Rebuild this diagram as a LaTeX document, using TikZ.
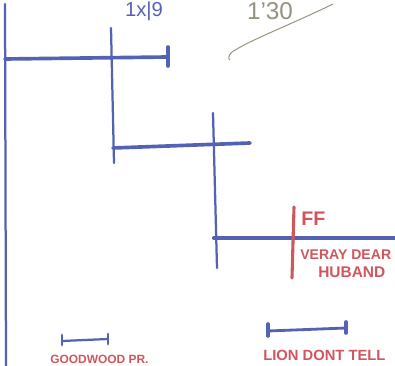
\documentclass[tikz,border=0pt]{standalone}
\usepackage{fontspec}
\setsansfont{Liberation Sans}
\usetikzlibrary{positioning}
\definecolor{penblue}{RGB}{84,98,180}
\definecolor{penred}{RGB}{208,86,94}
\definecolor{pencil}{RGB}{150,146,128}
\tikzset{
  bar/.style={penblue,line width=2.6pt,line cap=round},
  stem/.style={penblue,line width=1.6pt,line cap=round},
  tick/.style={penblue,line width=2.6pt,line cap=round},
  redlabel/.style={penred,font=\sffamily\bfseries\fontsize{10}{12}\selectfont,inner sep=0pt,anchor=west},
}

\begin{document}
\begin{tikzpicture}[x=.025cm,y=-.025cm]
\useasboundingbox (0,0) rectangle (395,366);
\clip (0,0) rectangle (395,366);
% Notes en haut de la feuille.
\node[penblue,font=\sffamily\Large,inner sep=0pt,anchor=north] (score) at (144,2) {1x|9};
\node[pencil,font=\sffamily\LARGE,inner sep=0pt,anchor=north] (time) at (270,2) {1'30};
\draw[pencil,line width=.7pt] (333,4) .. controls (290,25) and (250,40) .. (232,52)
      .. controls (228,56) and (228,59) .. (230,60);
% Le premier tableau : tronc gauche et premiere branche.
\coordinate (trunktop) at (5,4);
\coordinate (trunkbot) at (6,366);
\draw[stem] (trunktop) -- (trunkbot);
\coordinate (r1a) at (5,59);
\coordinate (r1b) at (168,57);
\draw[bar] (r1a) -- (r1b);
\draw[tick] (168,47) -- (168,66);
% Deuxieme branche.
\coordinate (s2top) at (111,28);
\coordinate (s2bot) at (114,163);
\draw[stem] (s2top) -- (s2bot);
\coordinate (r2a) at (113,148);
\coordinate (r2b) at (250,143);
\draw[bar] (r2a) -- (r2b);
% Troisieme branche, qui sort de la feuille.
\coordinate (s3top) at (213,113);
\coordinate (s3bot) at (217,268);
\draw[stem] (s3top) -- (s3bot);
\coordinate (r3a) at (214,238);
\coordinate (r3b) at (395,238);
\draw[bar,line width=3pt] (r3a) -- (r3b);
% Marque rouge et noms.
\coordinate (redtop) at (294,207);
\coordinate (redbot) at (292,278);
\draw[penred,line width=2.2pt,line cap=round] (redtop) -- (redbot);
\node[redlabel,font=\sffamily\bfseries\fontsize{14}{16}\selectfont] (ff) at (301,219) {FF};
\node[redlabel] (dear) at (300,255) {VERAY DEAR};
\node[redlabel,font=\sffamily\bfseries\fontsize{11}{13}\selectfont] (huband) at (318,272) {HUBAND};
% Echelles en bas.
\coordinate (sc1a) at (62,341);
\coordinate (sc1b) at (108,339);
\draw[penblue,line width=1.6pt] (sc1a) -- (sc1b);
\draw[tick,line width=2pt] (62,335) -- (62,345);
\draw[tick,line width=2pt] (108,334) -- (108,344);
\node[redlabel,font=\sffamily\bfseries\fontsize{8.5}{10}\selectfont] (goodwood) at (50,359) {GOODWOOD PR.};
\coordinate (sc2a) at (268,331);
\coordinate (sc2b) at (346,328);
\draw[penblue,line width=2pt] (sc2a) -- (sc2b);
\draw[tick] (268,324) -- (268,336);
\draw[tick] (346,322) -- (346,333);
\node[redlabel,font=\sffamily\bfseries\fontsize{10.5}{12}\selectfont] (lion) at (263,355) {LION DONT TELL};
\end{tikzpicture}
\end{document}
